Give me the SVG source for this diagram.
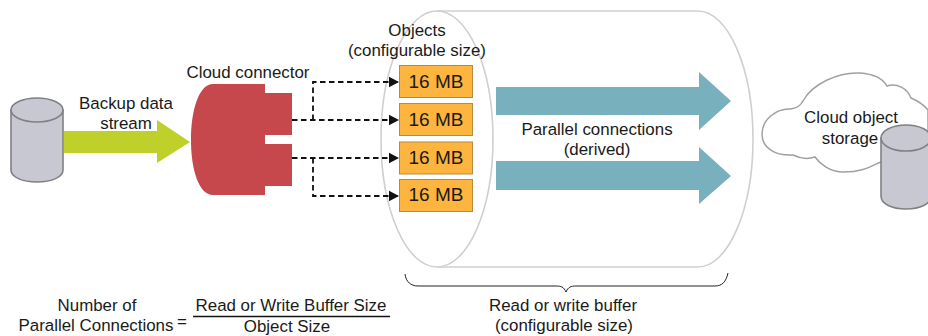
<svg xmlns="http://www.w3.org/2000/svg" width="928" height="336" viewBox="0 0 928 336">
<style>
text{font-family:"Liberation Sans",Arial,sans-serif;font-size:16.9px;fill:#1a1a1a;text-anchor:middle}
.mb{font-size:19px}
.cyl{fill:#c8c8d2;stroke:#808084;stroke-width:1.6}
.box{fill:#fdb53f;stroke:#b48a3c;stroke-width:1}
.teal{fill:#79b0bd}
.buf{fill:none;stroke:#cfcfcf;stroke-width:1.6}
.dash{fill:none;stroke:#111;stroke-width:1.8;stroke-dasharray:5.500 3.500}
</style>
<defs>
<marker id="ah" markerUnits="userSpaceOnUse" markerWidth="12" markerHeight="12" refX="10" refY="6" orient="auto"><path d="M0 0.800L10 6L0 11.200Z" fill="#111"/></marker>
</defs>
<g id="source-db">
<path class="cyl" d="M11 110V170C11 177 22 182 37 182S63 177 63 170V110Z"/>
<ellipse class="cyl" cx="37" cy="110" rx="26" ry="12"/>
</g>
<g id="backup-stream">
<path d="M64 131H157V120L190 142L157 163V153H64Z" fill="#bfd02b"/>
<text x="126" y="109">Backup data</text>
<text x="126" y="129">stream</text>
</g>
<g id="cloud-connector">
<path d="M213 84H265V93H292V135H265V144H292V186H265V195H213C199 195 191 170 191 140S199 84 213 84Z" fill="#c6484d"/>
<text x="248" y="78">Cloud connector</text>
</g>
<g id="buffer">
<path class="buf" d="M437 11H698C728 11 753 68 753 139S728 267 698 267H437"/>
<ellipse class="buf" cx="437" cy="139" rx="56" ry="128"/>
</g>
<g id="objects">
<text x="417" y="36">Objects</text>
<text x="417" y="56">(configurable size)</text>
<rect class="box" x="399.500" y="65.500" width="73" height="32"/>
<rect class="box" x="399.500" y="103.500" width="73" height="32"/>
<rect class="box" x="399.500" y="142" width="73" height="32"/>
<rect class="box" x="399.500" y="179.500" width="73" height="32"/>
<text class="mb" x="436" y="88">16 MB</text>
<text class="mb" x="436" y="126">16 MB</text>
<text class="mb" x="436" y="164">16 MB</text>
<text class="mb" x="436" y="201">16 MB</text>
</g>
<g id="connectors">
<path class="dash" d="M313 120V82H399" marker-end="url(#ah)"/>
<path class="dash" d="M292 120H399" marker-end="url(#ah)"/>
<path class="dash" d="M292 158H399" marker-end="url(#ah)"/>
<path class="dash" d="M313 158V196H399" marker-end="url(#ah)"/>
</g>
<g id="parallel-connections">
<path class="teal" d="M496 87H699V72L731 101L699 130V115H496Z"/>
<path class="teal" d="M496 161H699V147L731 176L699 204V190H496Z"/>
<text x="597" y="135">Parallel connections</text>
<text x="597" y="155">(derived)</text>
</g>
<g id="cloud-storage">
<path d="M791 109C797 108 801 105 803 101C812 84 838 72 860 73C874 74 883 79 887 86C897 83 907 88 911 98C918 101 924 105 928 110V150L881 162C874 164 866 172 843 172C830 172 820 164 815 157C806 160 797 157 793 155C775 156 762 148 762 134C762 119 777 108 791 109Z" fill="#fff" stroke="#a0a0a0" stroke-width="1.500"/>
<text x="851" y="123">Cloud object</text>
<text x="850" y="144">storage</text>
<path class="cyl" d="M881 138V196C881 204 892 209 906 209S931 204 931 196V138Z"/>
<ellipse class="cyl" cx="906" cy="138" rx="25" ry="13"/>
</g>
<g id="buffer-label">
<path d="M405 274C406 282 411 286 418 286H556C561 286 564 287 566 292C568 287 571 286 576 286H715C722 286 726 282 728 273" fill="none" stroke="#222" stroke-width="1"/>
<text x="563" y="311">Read or write buffer</text>
<text x="564" y="331">(configurable size)</text>
</g>
<g id="formula">
<text x="97" y="311">Number of</text>
<text x="96" y="331">Parallel Connections</text>
<text x="182" y="327">=</text>
<text x="291" y="311">Read or Write Buffer Size</text>
<line x1="193" y1="316.500" x2="390" y2="316.500" stroke="#111" stroke-width="1.500"/>
<text x="287" y="332">Object Size</text>
</g>
</svg>
